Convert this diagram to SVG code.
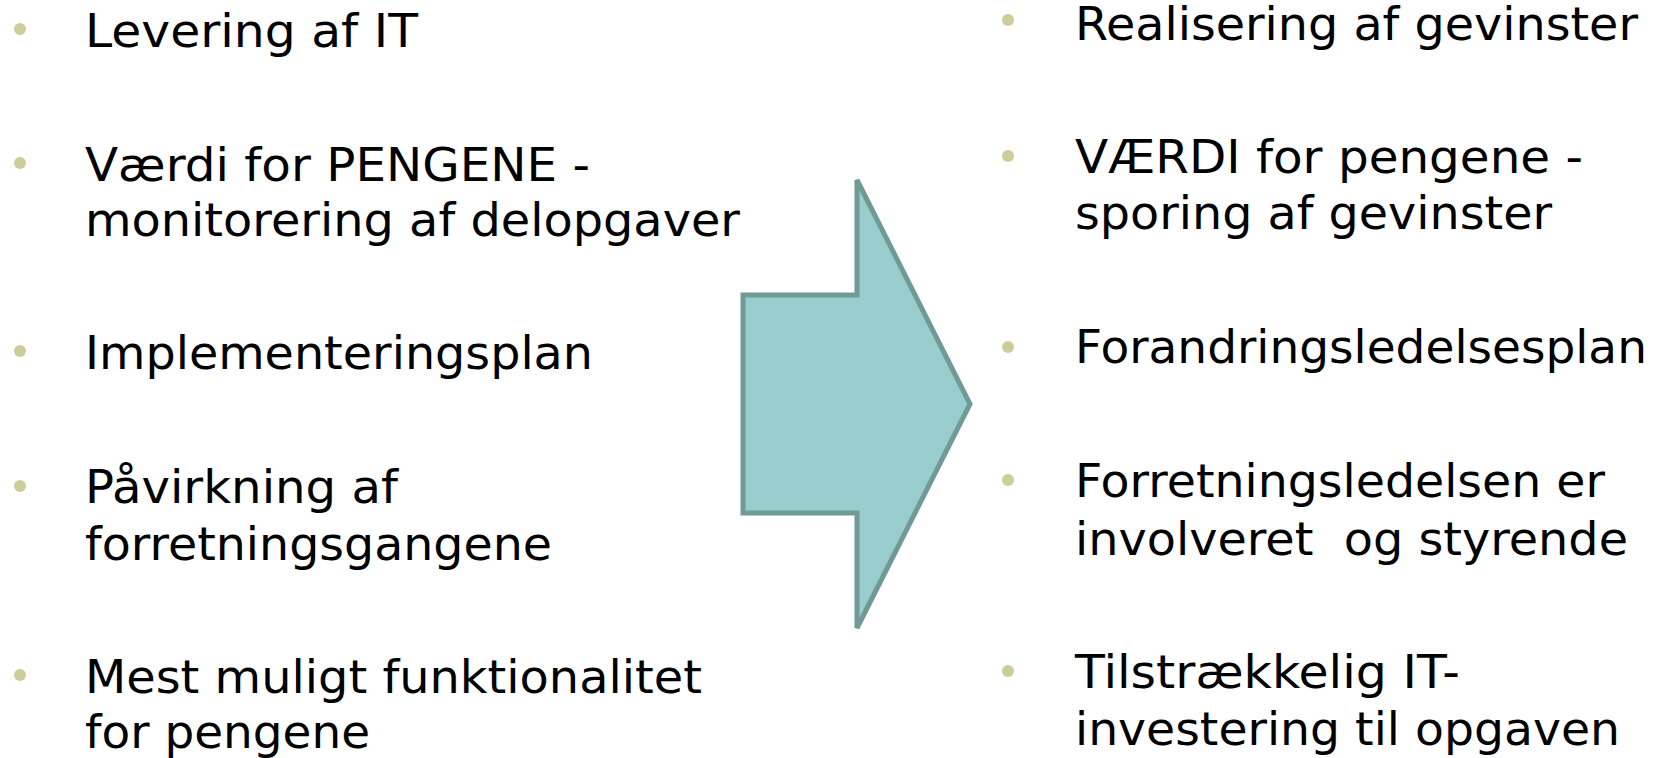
<svg xmlns="http://www.w3.org/2000/svg" width="1664" height="758" viewBox="0 0 1664 758">
<style>
  .t { font-family: "DejaVu Sans", Verdana, "Liberation Sans", sans-serif; font-size: 47px; fill: #000; white-space: pre; }
  .b { fill: #CDCD9C; }
  .arr { fill: #99CDCD; stroke: #6F9A96; stroke-width: 5; stroke-linejoin: miter; }
</style>
<rect width="1664" height="758" fill="#FFFFFF"/>
<g id="left">
  <g id="l1"><circle class="b" cx="20" cy="29" r="6"/><text class="t" x="85" y="47" textLength="333" lengthAdjust="spacingAndGlyphs">Levering af IT</text></g>
  <g id="l2"><circle class="b" cx="20" cy="163" r="6"/><text class="t" x="85" y="181" textLength="505" lengthAdjust="spacingAndGlyphs">Værdi for PENGENE -</text><text class="t" x="85" y="236" textLength="655" lengthAdjust="spacingAndGlyphs">monitorering af delopgaver</text></g>
  <g id="l3"><circle class="b" cx="20" cy="351" r="6"/><text class="t" x="85" y="369" textLength="508" lengthAdjust="spacingAndGlyphs">Implementeringsplan</text></g>
  <g id="l4"><circle class="b" cx="20" cy="486" r="6"/><text class="t" x="85" y="503" textLength="313" lengthAdjust="spacingAndGlyphs">Påvirkning af</text><text class="t" x="85" y="560" textLength="467" lengthAdjust="spacingAndGlyphs">forretningsgangene</text></g>
  <g id="l5"><circle class="b" cx="20" cy="675" r="6"/><text class="t" x="85" y="693" textLength="617" lengthAdjust="spacingAndGlyphs">Mest muligt funktionalitet</text><text class="t" x="85" y="748" textLength="285" lengthAdjust="spacingAndGlyphs">for pengene</text></g>
</g>
<g id="arrow">
  <polygon class="arr" points="743,295 857,295 857,180 970,404 857,628 857,513 743,513"/>
</g>
<g id="right">
  <g id="r1"><circle class="b" cx="1008" cy="20" r="6"/><text class="t" x="1075" y="40" textLength="563" lengthAdjust="spacingAndGlyphs">Realisering af gevinster</text></g>
  <g id="r2"><circle class="b" cx="1008" cy="156" r="6"/><text class="t" x="1075" y="173" textLength="508" lengthAdjust="spacingAndGlyphs">VÆRDI for pengene -</text><text class="t" x="1075" y="229" textLength="477" lengthAdjust="spacingAndGlyphs">sporing af gevinster</text></g>
  <g id="r3"><circle class="b" cx="1008" cy="347" r="6"/><text class="t" x="1075" y="363" textLength="572" lengthAdjust="spacingAndGlyphs">Forandringsledelsesplan</text></g>
  <g id="r4"><circle class="b" cx="1008" cy="480" r="6"/><text class="t" x="1075" y="497" textLength="530" lengthAdjust="spacingAndGlyphs">Forretningsledelsen er</text><text class="t" x="1075" y="555" textLength="553" lengthAdjust="spacingAndGlyphs">involveret  og styrende</text></g>
  <g id="r5"><circle class="b" cx="1008" cy="671" r="6"/><text class="t" x="1075" y="688" textLength="385" lengthAdjust="spacingAndGlyphs">Tilstrækkelig IT-</text><text class="t" x="1075" y="745" textLength="545" lengthAdjust="spacingAndGlyphs">investering til opgaven</text></g>
</g>
</svg>
